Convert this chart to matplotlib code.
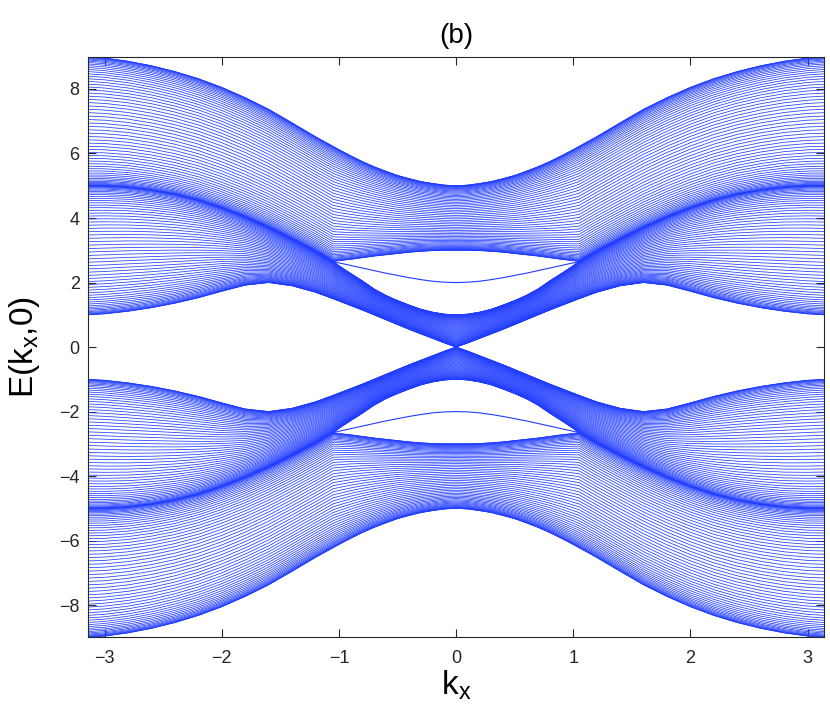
import numpy as np
import matplotlib
matplotlib.use("Agg")
import matplotlib.pyplot as plt

plt.rcParams['font.family'] = ['Liberation Sans', 'DejaVu Sans']
plt.rcParams['mathtext.default'] = 'regular'

# valores (so kx >= 0, o grafico e simetrico em kx e em E)
kx_half = [0.0, 0.1, 0.2, 0.3, 0.4, 0.5, 0.6, 0.7, 0.8, 0.9, 1.0, 1.05,
           1.2, 1.4, 1.6, 1.8, 2.0, 2.2, 2.4, 2.6, 2.8, 3.0, 3.1416]

# banda externa: borda de cima e borda de baixo
topo_externa = [5.0, 5.02, 5.07, 5.13, 5.22, 5.32, 5.45, 5.59, 5.75, 5.93,
                6.12, 6.22, 6.52, 6.95, 7.37, 7.73, 8.05, 8.32, 8.54, 8.72,
                8.86, 8.96, 9.0]
base_externa = [3.0, 3.0, 2.99, 2.97, 2.94, 2.90, 2.86, 2.82, 2.77, 2.72,
                2.68, 2.66, 2.98, 3.36, 3.72, 4.04, 4.32, 4.56, 4.74, 4.87,
                4.96, 5.0, 5.0]

# banda interna: borda de cima e borda de baixo
topo_interna = [1.0, 1.02, 1.08, 1.17, 1.30, 1.44, 1.60, 1.80, 2.05, 2.28,
                2.52, 2.66, 2.98, 3.36, 3.72, 4.04, 4.32, 4.56, 4.74, 4.87,
                4.96, 5.0, 5.0]
base_interna = [0.0, 0.13, 0.27, 0.41, 0.55, 0.70, 0.85, 1.0, 1.15, 1.29,
                1.43, 1.50, 1.70, 1.90, 2.0, 1.92, 1.73, 1.53, 1.36, 1.22,
                1.11, 1.03, 1.0]

# estado de borda, so existe para |kx| <= 1.05
estado_borda = [2.0, 2.01, 2.04, 2.09, 2.15, 2.22, 2.29, 2.37, 2.45, 2.53,
                2.61, 2.66]

x_ticks = [-3, -2, -1, 0, 1, 2, 3]
y_ticks = [-8, -6, -4, -2, 0, 2, 4, 6, 8]

n_linhas = 60
cor = '#213dff'


#espelha a curva de kx>=0 para o eixo inteiro
def espelha(valores):
    v = np.array(valores, dtype=float)
    return np.concatenate([v[::-1], v[1:]])


#eixo kx completo a partir da metade positiva
def eixoCompleto(k):
    k = np.array(k, dtype=float)
    return np.concatenate([-k[::-1], k[1:]])


#desenha as linhas de uma banda entre as duas bordas
def desenhaBanda(ax, kx, base, topo, sinal):
    for j in range(n_linhas):
        w = (1 - np.cos(np.pi * j / (n_linhas - 1))) / 2
        ax.plot(kx, sinal * (base + (topo - base) * w), color=cor, lw=0.55)


kx = eixoCompleto(kx_half)
kx_borda = eixoCompleto(kx_half[:len(estado_borda)])

fig = plt.figure(figsize=(8.3, 7.09), dpi=100)
ax = fig.add_axes([0.106, 0.101, 0.887, 0.819])

for sinal in (1, -1):
    desenhaBanda(ax, kx, espelha(base_interna), espelha(topo_interna), sinal)
    desenhaBanda(ax, kx, espelha(base_externa), espelha(topo_externa), sinal)
    ax.plot(kx_borda, sinal * espelha(estado_borda), color=cor, lw=0.8)

ax.set_xlim(-np.pi, np.pi)
ax.set_ylim(-9, 9)
ax.set_xticks(x_ticks)
ax.set_yticks(y_ticks)
ax.tick_params(direction='in', top=True, right=True, length=6, width=0.8,
               labelsize=13, colors='#262626', pad=6)
ax.tick_params(axis='x', pad=9)
for s in ax.spines.values():
    s.set_color('#262626')
    s.set_linewidth(0.8)

ax.set_title('(b)', fontsize=20, pad=10)
ax.set_xlabel('k$_x$', fontsize=24, labelpad=1)
ax.set_ylabel('E(k$_x$,0)', fontsize=24, labelpad=12)

fig.savefig('out.png', dpi=100)
